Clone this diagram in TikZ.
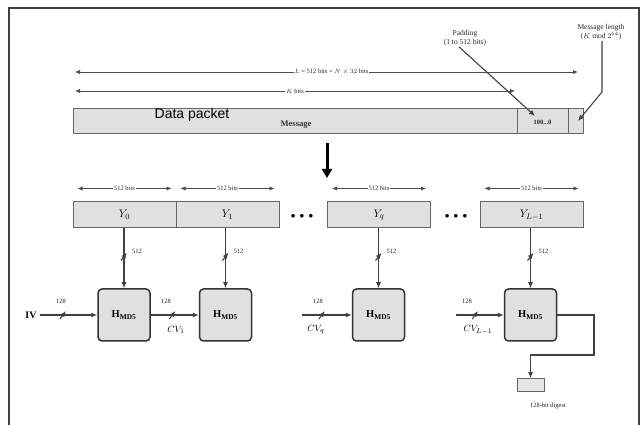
\documentclass[tikz,border=0pt]{standalone}
\usepackage{fontspec}
\setmainfont{Liberation Serif}
\newfontfamily\arialf{Liberation Sans}
\usetikzlibrary{arrows.meta,decorations.markings,calc}
\tikzset{
  ln/.style={draw=black!75, line width=1.1pt},
  arr/.style={ln, -{Latex[length=6pt,width=5pt]}},
  dimarr/.style={draw=black!70, line width=0.9pt, {Latex[length=5pt,width=4.5pt]}-{Latex[length=5pt,width=4.5pt]}},
  cell/.style={draw=black!60, fill=black!12, line width=1pt, minimum height=25pt, inner sep=0pt},
  blk/.style={draw=black!60, fill=black!12, line width=1pt, minimum width=103pt, minimum height=26pt, inner sep=0pt},
  hbox/.style={draw=black!80, fill=black!12, line width=1.5pt, rounded corners=4pt, minimum width=52pt, minimum height=52pt, inner sep=0pt},
  tiny/.style={font=\fontsize{6.5}{7.5}\selectfont, text=black!85, inner sep=1pt},
  small/.style={font=\fontsize{7.5}{8.5}\selectfont, text=black!85, inner sep=1pt, align=center},
  hsl/.style={postaction={decorate}, decoration={markings, mark=at position #1 with {\draw[ln] (-3pt,-4pt) -- (3pt,4pt);}}},
  vsl/.style={postaction={decorate}, decoration={markings, mark=at position #1 with {\draw[ln] (4pt,-3pt) -- (-4pt,3pt);}}},
}
\begin{document}
\begin{tikzpicture}[x=1pt,y=1pt]
\useasboundingbox (0,0) rectangle (641,-425);
% frame
\draw[draw=black!75, line width=1.2pt] (9,-425) -- (9,-8) -- (639,-8) -- (639,-425);

% top labels
\node[small] (padlbl) at (465,-38) {Padding\\(1 to 512 bits)};
\node[small] (lenlbl) at (601,-32) {Message length\\($K$ mod $2^{64}$)};

% dimension arrows
\coordinate (lL) at (75,-72);
\coordinate (lR) at (578,-72);
\draw[dimarr] (lL) -- node[tiny, fill=white, pos=0.51] {$L$ = 512 bits = $N \times 32$ bits} (lR);
\coordinate (kL) at (75,-91);
\coordinate (kR) at (515,-91);
\draw[dimarr] (kL) -- node[tiny, fill=white] {$K$ bits} (kR);

% message bar
\node[cell, minimum width=444pt] (msg) at (295,-121.5) {};
\node[cell, minimum width=51pt] (pad) at (542.5,-121.5) {};
\node[cell, minimum width=15pt] (len) at (575.5,-121.5) {};
\node[font=\fontsize{8.5}{9.5}\selectfont\bfseries, text=black!80] (msgtxt) at (296,-125) {Message};
\node[tiny, font=\fontsize{6.5}{7.5}\selectfont\bfseries] (padtxt) at (542.5,-122) {100...0};
\node[font=\arialf\fontsize{14}{16}\selectfont] (dp) at (192,-115) {Data packet};

\coordinate (padtip) at (535,-116);
\draw[arr] (padlbl.south) ++(-6,0) -- (padtip);
\coordinate (lenbend) at (602,-92);
\coordinate (lentip) at (578,-121);
\draw[arr] (lenlbl.south -| lenbend) -- (lenbend) -- (lentip);

% big down arrow
\coordinate (bigA) at (327,-143);
\coordinate (bigB) at (327,-178);
\draw[draw=black, line width=3pt, -{Triangle[length=9pt,width=10pt]}] (bigA) -- (bigB);

% blocks
\node[blk] (y0) at (124.5,-215) {\fontsize{11}{12}\selectfont $Y_0$};
\node[blk] (y1) at (227.5,-215) {\fontsize{11}{12}\selectfont $Y_1$};
\node[blk] (yq) at (379,-215) {\fontsize{11}{12}\selectfont $Y_q$};
\node[blk] (yl) at (531.5,-215) {\fontsize{11}{12}\selectfont $Y_{L-1}$};
\node[font=\fontsize{9}{10}\selectfont] (dots1) at (302,-216) {$\bullet\ \bullet\ \bullet$};
\node[font=\fontsize{9}{10}\selectfont] (dots2) at (456,-216) {$\bullet\ \bullet\ \bullet$};

% 512 bits arrows
\foreach \b in {y0,y1,yq,yl}{
  \draw[dimarr] ($(\b.north west)+(5,13)$) -- node[tiny, fill=white] {512 bits} ($(\b.north east)+(-5,13)$);
}

% H boxes
\node[hbox] (h1) at (124,-315) {\fontsize{10.5}{11}\selectfont $\mathbf{H}_{\mathbf{MD5}}$};
\node[hbox] (h2) at (225.5,-315) {\fontsize{10.5}{11}\selectfont $\mathbf{H}_{\mathbf{MD5}}$};
\node[hbox] (h3) at (378.5,-315) {\fontsize{10.5}{11}\selectfont $\mathbf{H}_{\mathbf{MD5}}$};
\node[hbox] (h4) at (530.5,-315) {\fontsize{10.5}{11}\selectfont $\mathbf{H}_{\mathbf{MD5}}$};

% vertical arrows with 512 labels
\foreach \b/\h in {y0/h1,y1/h2,yq/h3,yl/h4}{
  \draw[arr, vsl=0.47] (\b.south -| \h.north) -- (\h.north);
  \node[tiny] at ($(\h.north)+(13,37)$) {512};
}

% chaining inputs
\node[font=\fontsize{10}{11}\selectfont\bfseries] (iv) at (31,-315) {IV};
\draw[arr, hsl=0.4] (iv.east) -- (h1.west);
\node[tiny] at (61,-301) {128};
\draw[arr, hsl=0.45] (h1.east) -- (h2.west);
\node[tiny] at (166,-301) {128};
\node[font=\fontsize{9.5}{10}\selectfont] at (176,-330) {$CV_1$};
\coordinate (cvq) at (302,-315);
\draw[arr, hsl=0.4] (cvq) -- (h3.west);
\node[tiny] at (318,-301) {128};
\node[font=\fontsize{9.5}{10}\selectfont] at (316,-330) {$CV_q$};
\coordinate (cvl) at (456,-315);
\draw[arr, hsl=0.4] (cvl) -- (h4.west);
\node[tiny] at (467,-301) {128};
\node[font=\fontsize{9.5}{10}\selectfont] at (478,-330) {$CV_{L-1}$};

% output digest
\node[draw=black!60, fill=black!10, line width=1pt, minimum width=27pt, minimum height=13pt, inner sep=0pt] (dig) at (530.5,-385) {};
\node[tiny] (digtxt) at (548,-406) {128-bit digest};
\coordinate (o1) at (594,-315);
\coordinate (o2) at (594,-355);
\draw[arr] (h4.east) -- (o1) -- (o2) -- (o2 -| dig.north) -- (dig.north);
\end{tikzpicture}
\end{document}
